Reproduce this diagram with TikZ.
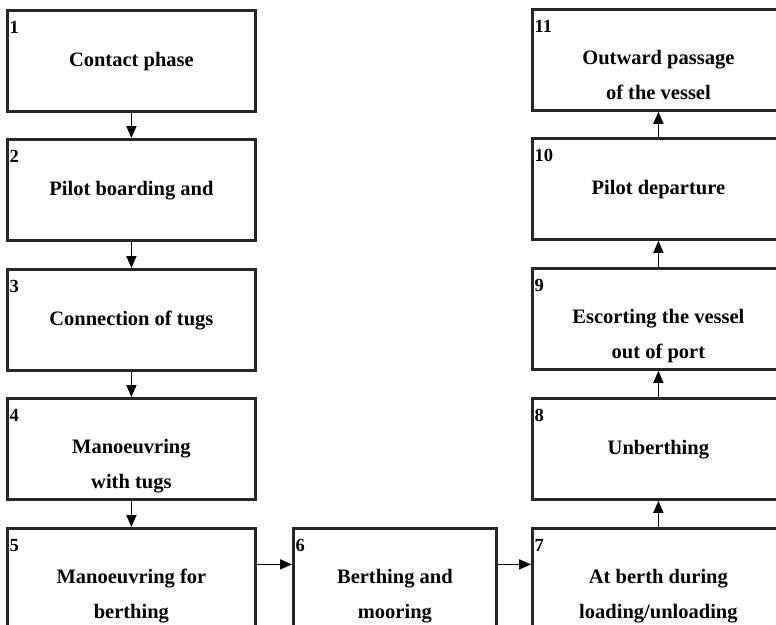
\documentclass[tikz,border=0pt]{standalone}
\usepackage{fontspec}
\setmainfont{Liberation Serif}
\usetikzlibrary{arrows.meta}
\begin{document}
\begin{tikzpicture}[x=1pt,y=-1pt,
  box/.style={draw=black!85, line width=2.8pt, minimum width=248pt, minimum height=101pt, anchor=north west, inner sep=0pt},
  num/.style={anchor=base west, inner sep=0pt, font=\fontsize{18.5}{20}\selectfont\bfseries},
  txt/.style={anchor=base, inner sep=0pt, font=\fontsize{20.5}{24}\selectfont\bfseries},
  arr/.style={-{Triangle[length=12pt,width=10pt]}, line width=1.6pt}]
\useasboundingbox (0,0) rectangle (776,624);
\clip (0,0) rectangle (776,624);
% boxes
\node[box] (b1) at (6,9) {};
\node[box] (b2) at (6,138) {};
\node[box] (b3) at (6,268) {};
\node[box] (b4) at (6,397) {};
\node[box] (b5) at (6,527) {};
\node[box, minimum width=203pt] (b6) at (292,527) {};
\node[box, minimum width=252pt] (b7) at (531,527) {};
\node[box, minimum width=252pt] (b8) at (531,397) {};
\node[box, minimum width=252pt] (b9) at (531,267) {};
\node[box, minimum width=252pt] (b10) at (531,137) {};
\node[box, minimum width=252pt] (b11) at (531,8) {};
% numbers
\foreach \b/\n in {b1/1,b2/2,b3/3,b4/4,b5/5,b6/6,b7/7,b8/8,b9/9,b10/10,b11/11}
  \node[num] (n\n) at ([xshift=3.5pt,yshift=-24pt]\b.north west) {\n};
% texts
\node[txt] (t1) at ([yshift=-57pt]b1.north) {Contact phase};
\node[txt] (t2) at ([yshift=-57pt]b2.north) {Pilot boarding and};
\node[txt] (t3) at ([yshift=-57pt]b3.north) {Connection of tugs};
\node[txt] (t4a) at ([yshift=-56pt]b4.north) {Manoeuvring};
\node[txt] (t4b) at ([yshift=-91pt]b4.north) {with tugs};
\node[txt] (t5a) at ([yshift=-56pt]b5.north) {Manoeuvring for};
\node[txt] (t5b) at ([yshift=-91pt]b5.north) {berthing};
\node[txt] (t6a) at ([yshift=-56pt]b6.north) {Berthing and};
\node[txt] (t6b) at ([yshift=-91pt]b6.north) {mooring};
\node[txt] (t7a) at ([yshift=-56pt]b7.north) {At berth during};
\node[txt] (t7b) at ([yshift=-91pt]b7.north) {loading/unloading};
\node[txt] (t8) at ([yshift=-57pt]b8.north) {Unberthing};
\node[txt] (t9a) at ([yshift=-56pt]b9.north) {Escorting the vessel};
\node[txt] (t9b) at ([yshift=-91pt]b9.north) {out of port};
\node[txt] (t10) at ([yshift=-57pt]b10.north) {Pilot departure};
\node[txt] (t11a) at ([yshift=-56pt]b11.north) {Outward passage};
\node[txt] (t11b) at ([yshift=-91pt]b11.north) {of the vessel};
% arrows
\draw[arr] (b1.south) -- (b2.north);
\draw[arr] (b2.south) -- (b3.north);
\draw[arr] (b3.south) -- (b4.north);
\draw[arr] (b4.south) -- (b5.north);
\draw[arr] ([yshift=14.5pt]b5.east) -- ([yshift=14.5pt]b6.west);
\draw[arr] ([yshift=14.5pt]b6.east) -- ([yshift=14.5pt]b7.west);
\draw[arr] (b7.north) -- (b8.south);
\draw[arr] (b8.north) -- (b9.south);
\draw[arr] (b9.north) -- (b10.south);
\draw[arr] (b10.north) -- (b11.south);
\end{tikzpicture}
\end{document}
